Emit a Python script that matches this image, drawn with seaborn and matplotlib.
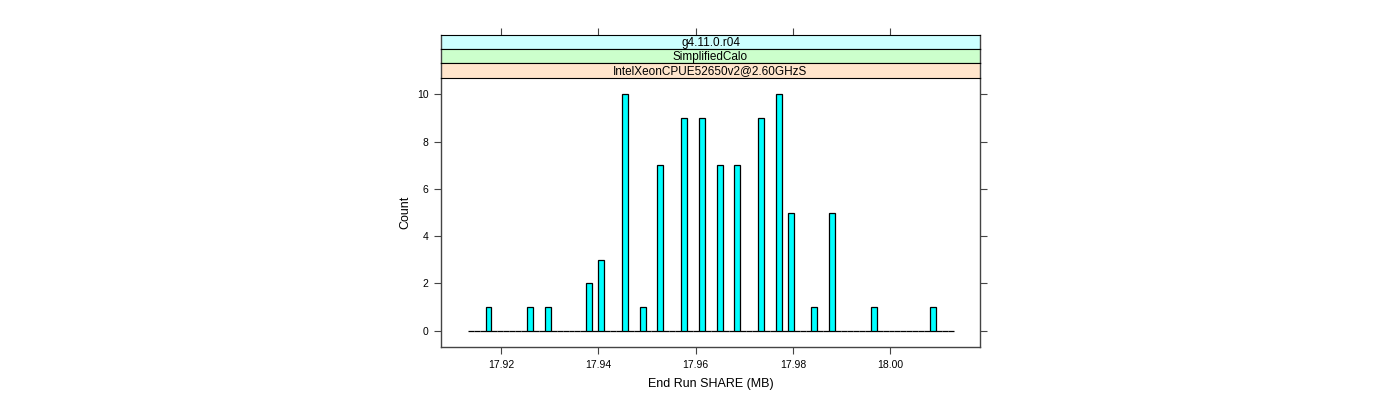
import numpy as np
import pandas as pd
import matplotlib
matplotlib.use("Agg")
import matplotlib.pyplot as plt
import seaborn as sns

# Observed End Run SHARE values (MB) and how often each occurs
share_values = [17.9173, 17.9258, 17.9295, 17.9380, 17.9404, 17.9453, 17.9490,
                17.9526, 17.9575, 17.9612, 17.9648, 17.9685, 17.9734, 17.9770,
                17.9795, 17.9843, 17.9880, 17.9965, 18.0087]
share_counts = [1, 1, 1, 2, 3, 10, 1, 7, 9, 9, 7, 7, 9, 10, 5, 1, 5, 1, 1]

strip_labels = ["g4.11.0.r04", "SimplifiedCalo", "IntelXeonCPUE52650v2@2.60GHzS"]
strip_colors = ["#ccffff", "#ccffcc", "#ffe5cc"]

x_ticks = [17.92, 17.94, 17.96, 17.98, 18.00]
y_ticks = [0, 2, 4, 6, 8, 10]

df = pd.DataFrame({"share": np.repeat(share_values, share_counts)})
edges = np.linspace(17.9132, 18.0130, 83)

sns.set_style("white")
plt.rcParams["font.family"] = ["Liberation Sans", "DejaVu Sans"]
plt.rcParams["text.color"] = "black"
plt.rcParams["axes.labelcolor"] = "black"
plt.rcParams["xtick.labelcolor"] = "black"
plt.rcParams["ytick.labelcolor"] = "black"

fig = plt.figure(figsize=(14, 4), dpi=100)
frame = "#444444"

# main panel
ax = fig.add_axes([441 / 1400, 1 - 347.3 / 400, 539 / 1400, (347.3 - 77.7) / 400])
sns.histplot(data=df, x="share", bins=edges, stat="count", color="#00ffff",
             edgecolor="black", linewidth=0.9, alpha=1, ax=ax)
ax.set_xlim(17.9077, 18.0184)
ax.set_ylim(-0.7, 10.7)
ax.set_xticks(x_ticks)
ax.set_xticklabels(["%.2f" % v for v in x_ticks])
ax.set_yticks(y_ticks)
ax.set_xlabel("End Run SHARE (MB)", fontsize=9, labelpad=6)
ax.set_ylabel("Count", fontsize=9, labelpad=4)
ax.tick_params(axis="both", direction="out", length=5, width=0.8, color=frame,
               labelsize=7.5, bottom=True, left=True, right=True, pad=4)
ax.tick_params(axis="y", labelright=False)
for sp in ax.spines.values():
    sp.set_color(frame)
    sp.set_linewidth(1)
ax.spines["top"].set_visible(False)

# strips
strip_h = (77.7 - 35) / 3
for i, (lab, col) in enumerate(zip(strip_labels, strip_colors)):
    top = 35 + i * strip_h
    sax = fig.add_axes([441 / 1400, 1 - (top + strip_h) / 400, 539 / 1400, strip_h / 400])
    sax.set_facecolor(col)
    sax.set_xlim(ax.get_xlim())
    sax.set_ylim(0, 1)
    sax.text(0.5, 0.45, lab, transform=sax.transAxes, ha="center", va="center",
             fontsize=8.5, color="black")
    sax.set_yticks([])
    if i == 0:
        sax.set_xticks(x_ticks)
        sax.tick_params(axis="x", direction="out", length=5, width=0.8, color=frame,
                        top=True, bottom=False, labeltop=False, labelbottom=False)
    else:
        sax.set_xticks([])
    for name, sp in sax.spines.items():
        sp.set_color(frame if name in ("left", "right") else "black")
        sp.set_linewidth(1 if name in ("left", "right") else 0.8)

fig.savefig("out.png", dpi=100)
